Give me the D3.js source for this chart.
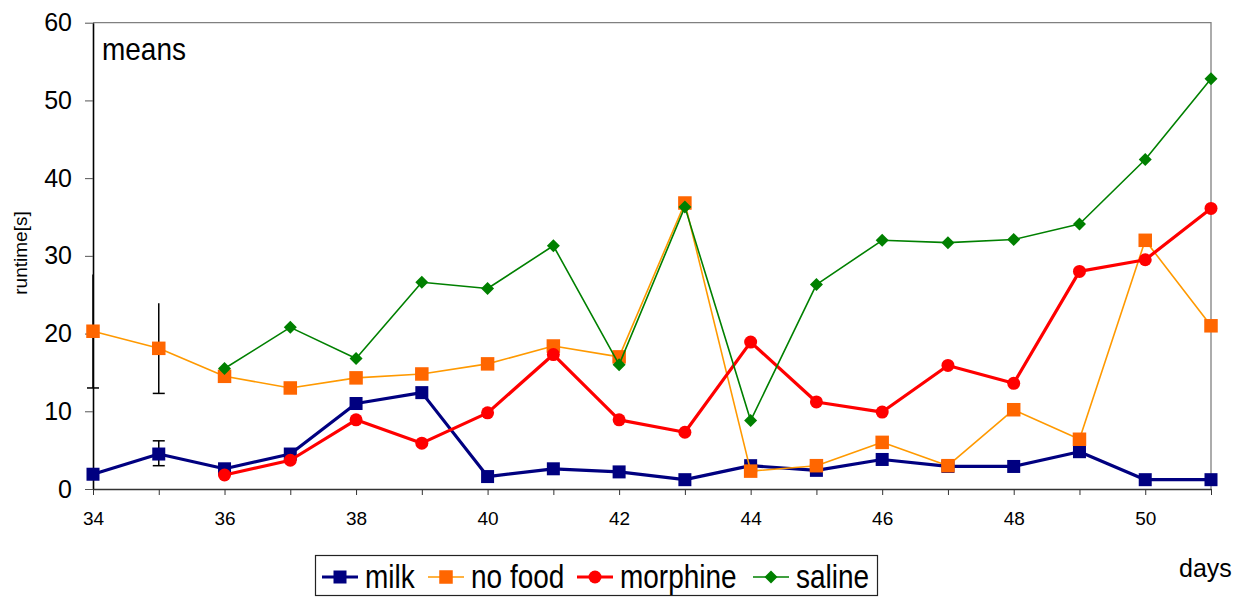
<!DOCTYPE html>
<html>
<head>
<meta charset="utf-8">
<script src="https://cdn.jsdelivr.net/npm/d3@7"></script>
<style>
  body { margin: 0; background: #fff; }
  svg { font-family: Arial, "Liberation Sans", sans-serif; }
</style>
</head>
<body>
<div id="chart"></div>
<script>
// days on the x axis
var days = [34, 35, 36, 37, 38, 39, 40, 41, 42, 43, 44, 45, 46, 47, 48, 49, 50, 51];

// mean runtimes [s], null = no measurement
var milk     = [1.9, 4.5, 2.6, 4.5, 11.0, 12.4, 1.6, 2.6, 2.2, 1.2, 3.0, 2.4, 3.8, 2.9, 2.9, 4.8, 1.2, 1.2];
var noFood   = [20.3, 18.1, 14.5, 13.0, 14.3, 14.8, 16.1, 18.4, 17.0, 36.8, 2.3, 3.0, 6.0, 3.0, 10.2, 6.4, 32.0, 21.0];
var morphine = [null, null, 1.8, 3.7, 8.9, 5.9, 9.8, 17.3, 8.9, 7.3, 18.9, 11.2, 9.9, 15.9, 13.6, 28.0, 29.5, 36.1];
var saline   = [null, null, 15.5, 20.8, 16.8, 26.6, 25.8, 31.3, 16.0, 36.3, 8.8, 26.3, 32.0, 31.7, 32.1, 34.1, 42.4, 52.8];

// error bars
var errDays  = [34, 35, 35];
var errLow   = [13.0, 12.3, 3.0];
var errHigh  = [27.6, 23.9, 6.2];
var errCapTop = [false, false, true];

var yTicks = [0, 10, 20, 30, 40, 50, 60];

var series = [
  { name: "milk",     values: milk,     line: "#000080", fill: "#000080", width: 3.2, shape: "square", size: 13 },
  { name: "no food",  values: noFood,   line: "#FF9900", fill: "#FF6600", width: 1.6, shape: "square", size: 13.5 },
  { name: "morphine", values: morphine, line: "#FF0000", fill: "#FF0000", width: 3.2, shape: "circle", size: 13 },
  { name: "saline",   values: saline,   line: "#008000", fill: "#008000", width: 1.6, shape: "diamond", size: 11 }
];

var width = 1245, height = 597;

var svg = d3.select("#chart").append("svg")
    .attr("width", width)
    .attr("height", height);

var x = d3.scaleLinear().domain([34, 51]).range([93, 1211]);
var y = d3.scaleLinear().domain([0, 60]).range([489, 22.7]);

// top and right frame (grey)
svg.append("path")
   .attr("d", "M" + x(34) + "," + y(60) + "H" + x(51) + "V" + y(0))
   .attr("fill", "none")
   .attr("stroke", "#808080")
   .attr("stroke-width", 1.3);

// y axis
var yAxis = svg.append("g")
   .attr("transform", "translate(" + x(34) + ",0)")
   .call(d3.axisLeft(y).tickValues(yTicks).tickSize(8).tickSizeOuter(0).tickPadding(13));
yAxis.selectAll("text").attr("font-size", 25).attr("fill", "#000").attr("font-family", null);
yAxis.select(".domain").attr("stroke", "#000").attr("stroke-width", 1.6);
yAxis.selectAll(".tick line").attr("stroke", "#555");

// x axis
var xAxis = svg.append("g")
   .attr("transform", "translate(0," + y(0) + ")")
   .call(d3.axisBottom(x).tickValues(days).tickSize(6).tickSizeOuter(0).tickPadding(16.5)
     .tickFormat(function(d) { return d % 2 === 0 ? d : ""; }));
xAxis.selectAll("text").attr("font-size", 19).attr("fill", "#000").attr("font-family", null);
xAxis.select(".domain").attr("stroke", "#333").attr("stroke-width", 1.6);
xAxis.selectAll(".tick line").attr("stroke", "#333");

// error bars
var errG = svg.append("g").attr("stroke", "#000").attr("stroke-width", 1.5);
errDays.forEach(function(d, i) {
  errG.append("line")
      .attr("x1", x(d)).attr("x2", x(d))
      .attr("y1", y(errLow[i])).attr("y2", y(errHigh[i]));
  errG.append("line")
      .attr("x1", x(d) - 6).attr("x2", x(d) + 6)
      .attr("y1", y(errLow[i])).attr("y2", y(errLow[i]));
  if (errCapTop[i]) {
    errG.append("line")
        .attr("x1", x(d) - 6).attr("x2", x(d) + 6)
        .attr("y1", y(errHigh[i])).attr("y2", y(errHigh[i]));
  }
});

function drawMarker(g, shape, size, color, cx, cy) {
  if (shape === "square") {
    g.append("rect")
     .attr("x", cx - size / 2).attr("y", cy - size / 2)
     .attr("width", size).attr("height", size)
     .attr("fill", color);
  } else if (shape === "circle") {
    g.append("circle")
     .attr("cx", cx).attr("cy", cy).attr("r", size / 2)
     .attr("fill", color);
  } else {
    var h = size / 2 + 1;
    g.append("path")
     .attr("d", "M" + cx + "," + (cy - h) + "L" + (cx + h) + "," + cy + "L" + cx + "," + (cy + h) + "L" + (cx - h) + "," + cy + "Z")
     .attr("fill", color);
  }
}

var line = d3.line()
    .defined(function(d) { return d.v !== null; })
    .x(function(d) { return x(d.day); })
    .y(function(d) { return y(d.v); });

series.forEach(function(s) {
  var pts = days.map(function(d, i) { return { day: d, v: s.values[i] }; });
  var g = svg.append("g");
  g.append("path")
   .datum(pts)
   .attr("d", line)
   .attr("fill", "none")
   .attr("stroke", s.line)
   .attr("stroke-width", s.width)
   .attr("stroke-linejoin", "round");
  pts.filter(function(p) { return p.v !== null; }).forEach(function(p) {
    drawMarker(g, s.shape, s.size, s.fill, x(p.day), y(p.v));
  });
});

// texts (the original font is a bit taller than Arial, so stretch a little)
svg.append("text")
   .attr("transform", "translate(102,60) scale(1,1.15)")
   .attr("font-size", 28)
   .text("means");

svg.append("text")
   .attr("transform", "translate(27,253) rotate(-90)")
   .attr("text-anchor", "middle")
   .attr("font-size", 19)
   .text("runtime[s]");

svg.append("text")
   .attr("x", 1179).attr("y", 577)
   .attr("font-size", 25)
   .text("days");

// legend
var legend = svg.append("g");
legend.append("rect")
   .attr("x", 315.5).attr("y", 555.5)
   .attr("width", 562).attr("height", 40)
   .attr("fill", "#fff")
   .attr("stroke", "#222")
   .attr("stroke-width", 1.2);

var legendX = [322, 428, 577, 753];
series.forEach(function(s, i) {
  var lx = legendX[i], ly = 577;
  legend.append("line")
     .attr("x1", lx).attr("x2", lx + 36)
     .attr("y1", ly).attr("y2", ly)
     .attr("stroke", s.line)
     .attr("stroke-width", s.width);
  drawMarker(legend, s.shape, s.size, s.fill, lx + 18, ly);
  legend.append("text")
     .attr("transform", "translate(" + (lx + 43) + ",588) scale(1,1.2)")
     .attr("font-size", 28)
     .text(s.name);
});
</script>
</body>
</html>
